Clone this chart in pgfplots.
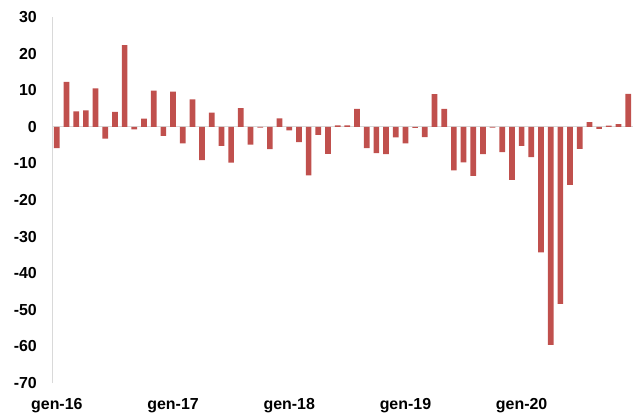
\documentclass[border=0pt]{standalone}
\usepackage{fontspec}
\setmainfont{Liberation Sans}
\usepackage{pgfplots}
\pgfplotsset{compat=1.18}
\usepackage{pgfplotstable}
\definecolor{barred}{RGB}{192,80,77}
\definecolor{axgray}{RGB}{217,217,217}
\pgfplotstableread{
m v
1 -5.8
2 12.3
3 4.2
4 4.5
5 10.5
6 -3.2
7 4.1
8 22.3
9 -0.7
10 2.2
11 9.9
12 -2.5
13 9.6
14 -4.5
15 7.5
16 -9.1
17 3.9
18 -5.2
19 -9.8
20 5.1
21 -4.9
22 -0.2
23 -6.1
24 2.3
25 -1.0
26 -4.2
27 -13.3
28 -2.2
29 -7.4
30 0.4
31 0.4
32 4.9
33 -5.8
34 -7.2
35 -7.5
36 -2.9
37 -4.5
38 -0.3
39 -2.8
40 8.9
41 4.9
42 -11.9
43 -9.7
44 -13.4
45 -7.5
46 -0.2
47 -6.9
48 -14.5
49 -5.2
50 -8.3
51 -34.3
52 -59.6
53 -48.4
54 -15.9
55 -6.0
56 1.3
57 -0.6
58 0.3
59 0.7
60 9.0
}\datatable
\begin{document}
\begin{tikzpicture}
\begin{axis}[
  scale only axis,
  width=581bp, height=366bp,
  xmin=0.5, xmax=60.5,
  ymin=-70, ymax=30,
  axis y line=left,
  axis x line=bottom,
  x axis line style={draw=none},
  y axis line style={draw=axgray, line width=0.8bp, -},
  major tick length=0pt,
  xtick={1,13,25,37,49},
  xticklabels={gen-16,gen-17,gen-18,gen-19,gen-20},
  ytick={-70,-60,-50,-40,-30,-20,-10,0,10,20,30},
  yticklabels={-70,-60,-50,-40,-30,-20,-10,0,10,20,30},
  extra y ticks={0},
  extra y tick labels={},
  extra y tick style={grid=major, major grid style={draw=axgray, line width=0.8bp}},
  tick label style={font=\fontsize{16}{16}\selectfont\bfseries, text=black},
  yticklabel style={anchor=east, inner sep=0pt, xshift=-15bp},
  xticklabel style={anchor=north, inner sep=0pt, yshift=-15bp},
  ybar, bar width=5.7bp, bar shift=0pt,
  clip=false,
]
\addplot[fill=barred, draw=none] table[x=m, y=v] {\datatable};
\end{axis}
\path ([shift={(-52bp,-31bp)}]current axis.south west) rectangle ([shift={(587bp,383bp)}]current axis.south west);
\end{tikzpicture}
\end{document}
